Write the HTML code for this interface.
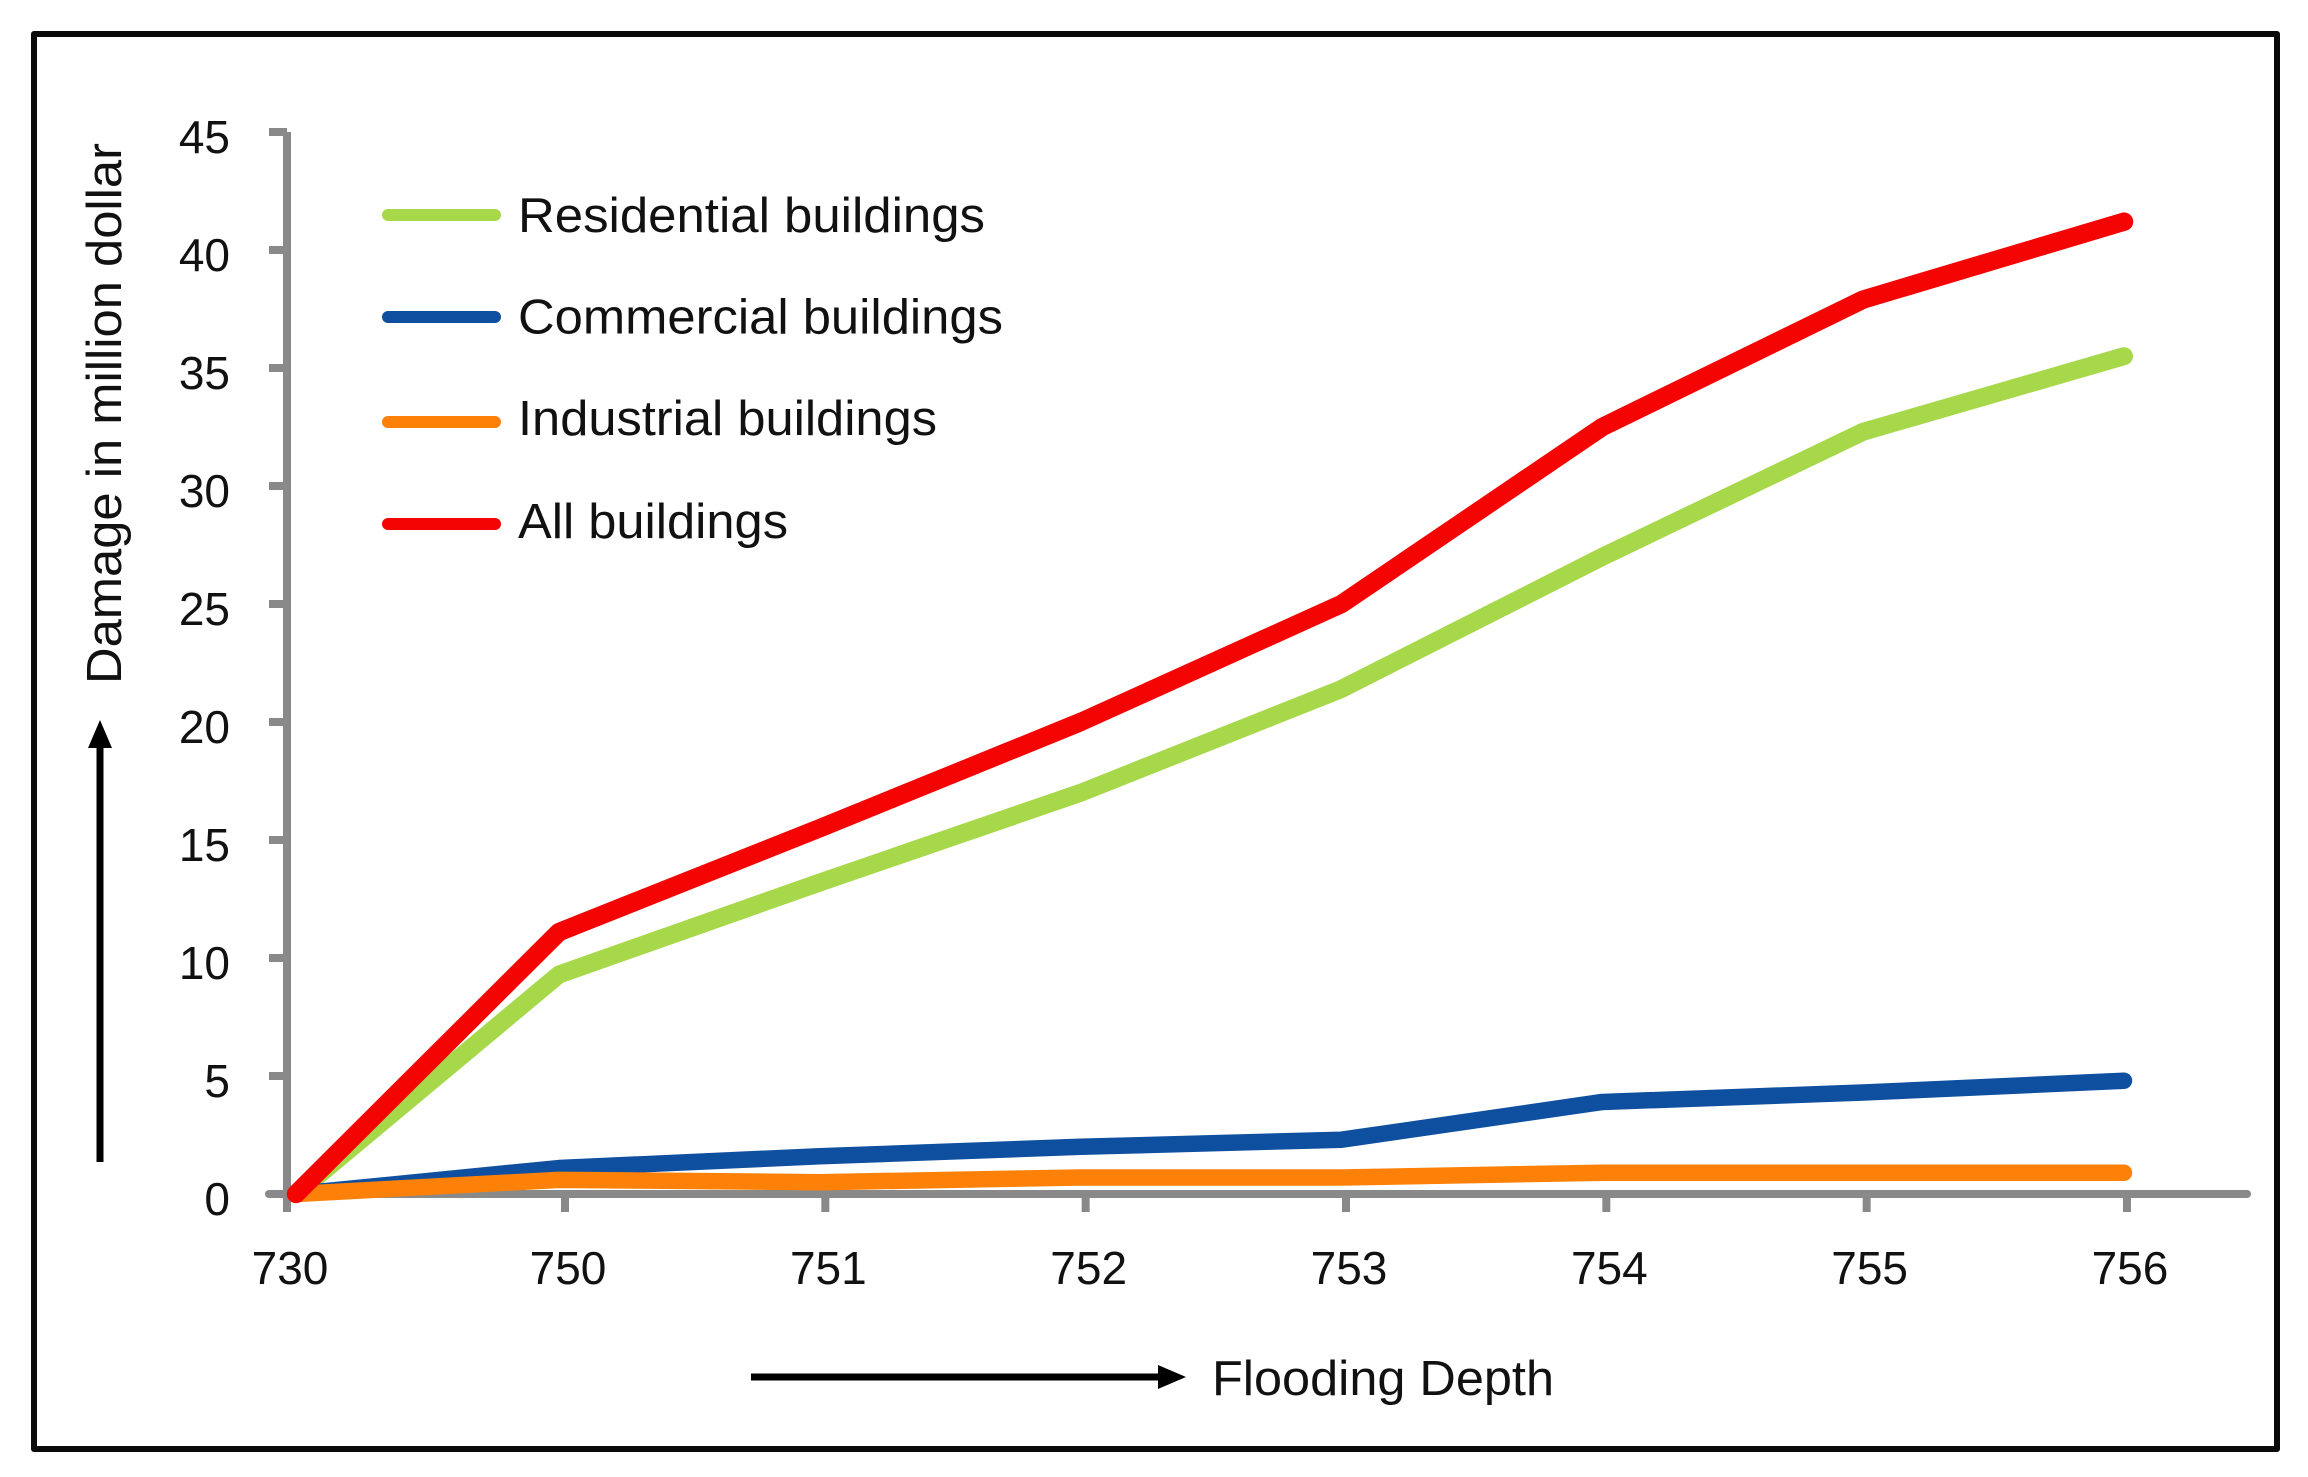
<!DOCTYPE html>
<html>
<head>
<meta charset="utf-8">
<title>Damage vs Flooding Depth</title>
<style>
html,body{margin:0;padding:0;background:#fff;}
svg{display:block;}
text{font-family:"Liberation Sans",sans-serif;font-size:46px;fill:#111;}
text.big{font-size:49px;}
</style>
</head>
<body>
<svg id="chart" xmlns="http://www.w3.org/2000/svg" width="2308" height="1477" viewBox="0 0 2308 1477">
  <rect x="34" y="34" width="2243" height="1415" fill="#fff" stroke="#0a0a0a" stroke-width="6" stroke-linejoin="round"/>
  <g id="axes"></g>
  <g id="series"></g>
  <g id="legend"></g>
  <text class="big" transform="translate(121,684) rotate(-90)" textLength="541" lengthAdjust="spacingAndGlyphs">Damage in million dollar</text>
  <line x1="100" y1="1162" x2="100" y2="745" stroke="#000" stroke-width="7"/>
  <polygon points="100,720 88,748 112,748" fill="#000"/>
  <line x1="751" y1="1377" x2="1160" y2="1377" stroke="#000" stroke-width="7"/>
  <polygon points="1186,1377 1158,1365 1158,1389" fill="#000"/>
  <text class="big" x="1212" y="1395" textLength="342" lengthAdjust="spacingAndGlyphs">Flooding Depth</text>
</svg>
<script>
const categories = ["730", "750", "751", "752", "753", "754", "755", "756"];
const yTicks = [0, 5, 10, 15, 20, 25, 30, 35, 40, 45];
const residential = [0, 9.3, 13.2, 17, 21.4, 27, 32.3, 35.5];
const commercial = [0, 1.1, 1.6, 2.0, 2.3, 3.9, 4.3, 4.8];
const industrial = [0, 0.6, 0.5, 0.7, 0.7, 0.9, 0.9, 0.9];
const allBuildings = [0, 11.1, 15.5, 20, 25, 32.5, 37.9, 41.2];
const seriesNames = ["Residential buildings", "Commercial buildings", "Industrial buildings", "All buildings"];

const NS = "http://www.w3.org/2000/svg";
const AXIS = "#898989";
function yScale(v) { return 1194 - 23.6 * v; }
function tickX(i) { return i === 0 ? 287 : 565 + (i - 1) * 260.33; }
function pointX(i) { return i === 0 ? 296 : 559 + (i - 1) * 260.83; }
function make(tag, attrs, parent) {
  const el = document.createElementNS(NS, tag);
  for (const k in attrs) el.setAttribute(k, attrs[k]);
  parent.appendChild(el);
  return el;
}

const axes = document.getElementById("axes");
const seriesGroup = document.getElementById("series");
const legend = document.getElementById("legend");

const yAxisLine = make("line", {x1: tickX(0), y1: yScale(yTicks[yTicks.length - 1]), x2: tickX(0), y2: 1212, stroke: AXIS, "stroke-width": 8}, axes);


const xAxisLine = make("line", {x1: 269, y1: yScale(0), x2: 2247, y2: yScale(0), stroke: AXIS, "stroke-width": 8, "stroke-linecap": "round"}, axes);



yTicks.forEach(function (v) {
  const tick = make("line", {x1: 269, y1: yScale(v), x2: tickX(0), y2: yScale(v), stroke: AXIS, "stroke-width": 8}, axes);
  
  
  const label = make("text", {x: 230, y: yScale(v) + 21, "text-anchor": "end"}, axes);
  
  
  label.textContent = String(v);
});

categories.forEach(function (c, i) {
  const tick = make("line", {x1: tickX(i), y1: yScale(0), x2: tickX(i), y2: 1212, stroke: AXIS, "stroke-width": 8}, axes);
  
  
  const label = make("text", {x: tickX(i) + 3, y: 1284, "text-anchor": "middle"}, axes);
  
  
  label.textContent = c;
});

function drawSeries(values, color, name, width) {
  const pts = values.map(function (v, i) { return pointX(i) + "," + yScale(v); }).join(" ");
  const line = make("polyline", {points: pts, fill: "none", stroke: color, "stroke-width": width, "stroke-linecap": "round", "stroke-linejoin": "round"}, seriesGroup);
  
  
}
drawSeries(residential, "#a6d84a", "residential-line", 18);
drawSeries(commercial, "#0f4f9f", "commercial-line", 16.5);
drawSeries(industrial, "#fd8108", "industrial-line", 16.5);
drawSeries(allBuildings, "#f50404", "all-buildings-line", 18.5);

const legendColors = ["#a6d84a", "#0f4f9f", "#fd8108", "#f50404"];
const legendRows = [215, 317, 422, 524];
const legendBaselines = [232, 333.5, 435, 538];
const legendWidths = [467, 485, 419, 270];
seriesNames.forEach(function (n, i) {
  const swatch = make("line", {x1: 388, y1: legendRows[i], x2: 495, y2: legendRows[i], stroke: legendColors[i], "stroke-width": 12, "stroke-linecap": "round"}, legend);
  
  
  const label = make("text", {x: 518, y: legendBaselines[i], class: "big", textLength: legendWidths[i], lengthAdjust: "spacingAndGlyphs"}, legend);
  
  
  label.textContent = n;
});
</script>
</body>
</html>
